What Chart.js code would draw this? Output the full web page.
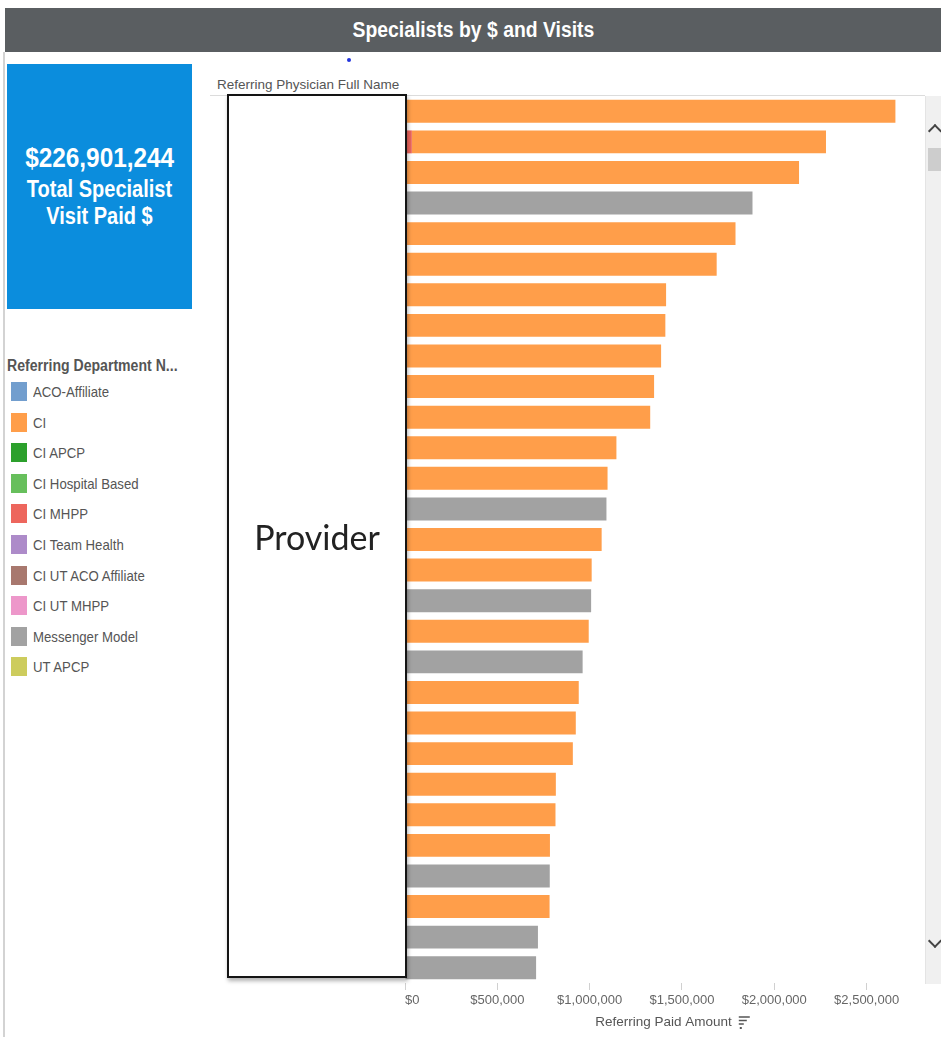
<!DOCTYPE html>
<html>
<head>
<meta charset="utf-8">
<script src="https://cdn.jsdelivr.net/npm/chart.js@4.4.1/dist/chart.umd.min.js"></script>
<style>
  html, body { margin: 0; padding: 0; background: #fff; }
  body { width: 941px; height: 1037px; position: relative; overflow: hidden;
         font-family: "Liberation Sans", Arial, sans-serif; }
  .abs { position: absolute; }
  .squeeze { display: inline-block; white-space: nowrap; }
  #edge { left: 3px; top: 52px; width: 2px; height: 985px; background: #d3d3d3; }
  #titlebar { left: 5px; top: 8px; width: 936px; height: 44px; background: #5a5e61;
              color: #fff; font-weight: bold; font-size: 22px; line-height: 44px; text-align: center; }
  #titlebar .squeeze { transform: scaleX(0.88); }
  #kpi { left: 7px; top: 64px; width: 185px; height: 245px; background: #0b8ddd; color: #fff;
         text-align: center; font-weight: bold; }
  #kpi .squeeze { transform: scaleX(0.87); }
  #kpi .big { position: absolute; left: 0; right: 0; top: 78px; font-size: 28px; line-height: 32px; }
  #kpi .sub { position: absolute; left: 0; right: 0; top: 112px; font-size: 23px; line-height: 27px; }
  #dot { left: 347px; top: 58px; width: 4px; height: 4px; border-radius: 2px; background: #2233dd; }
  #rowhead { left: 217px; top: 77px; font-size: 13.5px; color: #555; }
  #headline { left: 210px; top: 95px; width: 715px; height: 1px; background: #dcdcdc; }
  #legend { left: 7px; top: 357px; color: #555; }
  #legend .squeeze { transform: scaleX(0.88); transform-origin: left center; }
  #legend .ttl { font-size: 16px; font-weight: bold; height: 25px; }
  #legend .item { height: 30.6px; position: relative; font-size: 15px; }
  #legend .sw { position: absolute; left: 4px; top: 0; width: 16px; height: 19px; }
  #legend .lb { position: absolute; left: 26px; top: 1px; }
  #chartbox { left: 210px; top: 90px; width: 715px; height: 947px; }
  #provider { left: 227px; top: 94px; width: 176px; height: 880px; background: #fff;
              border: 2px solid #141414; box-shadow: 1px 3px 4px rgba(0,0,0,0.3);
              font-family: Lato, "Open Sans", sans-serif; font-size: 34px; color: #222;
              display: flex; align-items: center; justify-content: center; }
  #scroll { left: 925px; top: 96px; width: 16px; height: 888px; background: #f0f0f0; border-left: 1px solid #e4e4e4; }
  #thumb { left: 928px; top: 148px; width: 13px; height: 23px; background: #cdcdcd; }
  .chev { width: 8px; height: 8px; border-left: 2px solid #444; border-top: 2px solid #444; }
  #up { left: 930px; top: 126px; transform: rotate(45deg); }
  #down { left: 930px; top: 936px; transform: rotate(225deg); }
</style>
</head>
<body>
<div class="abs" id="edge"></div>
<div class="abs" id="titlebar"><span class="squeeze">Specialists by $ and Visits</span></div>
<div class="abs" id="kpi">
  <div class="big"><span class="squeeze">$226,901,244</span></div>
  <div class="sub"><span class="squeeze">Total Specialist<br>Visit Paid $</span></div>
</div>
<div class="abs" id="dot"></div>
<div class="abs" id="rowhead">Referring Physician Full Name</div>
<div class="abs" id="headline"></div>
<div class="abs" id="legend"></div>
<div class="abs" id="chartbox"><canvas id="bars" width="715" height="947"></canvas></div>
<div class="abs" id="provider">Provider</div>
<div class="abs" id="scroll"></div>
<div class="abs" id="thumb"></div>
<div class="abs chev" id="up"></div>
<div class="abs chev" id="down"></div>

<script>
// referring department colour key
const departments = ['ACO-Affiliate', 'CI', 'CI APCP', 'CI Hospital Based', 'CI MHPP',
  'CI Team Health', 'CI UT ACO Affiliate', 'CI UT MHPP', 'Messenger Model', 'UT APCP'];
const deptColors = ['#729ece', '#ff9e4a', '#2ca02c', '#67bf5c', '#ed665d',
  '#ad8bc9', '#a8786e', '#ed97ca', '#a2a2a2', '#cdcc5d'];

// one row per referring physician, sorted by paid amount
const providers = [];
for (let i = 1; i <= 29; i++) providers.push('Provider ' + i);

const mhppPaid = [null, 37000, null, null, null, null, null, null, null, null,
  null, null, null, null, null, null, null, null, null, null,
  null, null, null, null, null, null, null, null, null];
const ciPaid = [2656000, 2243000, 2134000, null, 1790000, 1688000, 1414000, 1410000, 1387000, 1349000,
  1328000, 1145000, 1097000, null, 1065000, 1011000, null, 995000, null, 941000,
  925000, 909000, 817000, 815000, 785000, null, 783000, null, null];
const messengerPaid = [null, null, null, 1882000, null, null, null, null, null, null,
  null, null, null, 1091000, null, null, 1008000, null, 962000, null,
  null, null, null, null, null, 784000, null, 720000, 710000];

const xTicks = [0, 500000, 1000000, 1500000, 2000000, 2500000];
const xMax = 2800000;

const FONT = '"Liberation Sans", Arial, sans-serif';

// legend panel
const legendEl = document.getElementById('legend');
legendEl.innerHTML = '<div class="ttl"><span class="squeeze">Referring Department N...</span></div>' +
  departments.map((d, i) =>
    '<div class="item"><span class="sw" style="background:' + deptColors[i] + '"></span>' +
    '<span class="lb"><span class="squeeze">' + d + '</span></span></div>').join('');

const color = name => deptColors[departments.indexOf(name)];

// sort glyph next to the x axis title
const sortIcon = {
  id: 'sortIcon',
  afterDraw(chart) {
    const x = chart.scales.x;
    const ctx = chart.ctx;
    ctx.save();
    ctx.font = '13.5px ' + FONT;
    const w = ctx.measureText('Referring Paid Amount').width;
    const cx = (x.left + x.right) / 2 + w / 2 + 7;
    const cy = x.bottom - 15;
    ctx.strokeStyle = '#555';
    ctx.lineWidth = 1.5;
    [[11, -5], [8, -1.5], [5, 2]].forEach(([len, dy]) => {
      ctx.beginPath();
      ctx.moveTo(cx, cy + dy);
      ctx.lineTo(cx + len, cy + dy);
      ctx.stroke();
    });
    ctx.fillStyle = '#555';
    ctx.fillRect(cx + 1, cy + 5, 2, 2);
    ctx.restore();
  }
};

new Chart(document.getElementById('bars'), {
  type: 'bar',
  data: {
    labels: providers,
    datasets: [
      { label: 'CI MHPP', data: mhppPaid, backgroundColor: color('CI MHPP') },
      { label: 'CI', data: ciPaid, backgroundColor: color('CI') },
      { label: 'Messenger Model', data: messengerPaid, backgroundColor: color('Messenger Model') }
    ]
  },
  options: {
    indexAxis: 'y',
    responsive: false,
    animation: false,
    layout: { padding: { top: 6, left: 195, right: 0, bottom: 0 } },
    datasets: { bar: { categoryPercentage: 1, barPercentage: 0.75, borderWidth: 0 } },
    plugins: { legend: { display: false }, tooltip: { enabled: false } },
    scales: {
      y: { stacked: true, display: false },
      x: {
        stacked: true,
        min: 0,
        max: xMax,
        afterFit(scale) { scale.height = 54; },
        afterBuildTicks(scale) {
          scale.ticks = xTicks.concat([xMax]).map(v => ({ value: v }));
        },
        border: { display: false },
        grid: {
          drawOnChartArea: false,
          drawTicks: true,
          tickLength: 7,
          tickColor: c => (c.tick && c.tick.value === xMax) ? 'rgba(0,0,0,0)' : '#d0d0d0'
        },
        ticks: {
          align: 'inner',
          padding: 3,
          maxRotation: 0,
          autoSkip: false,
          color: '#666',
          font: { family: FONT, size: 13 },
          callback: v => v === xMax ? '' : '$' + v.toLocaleString('en-US')
        },
        title: {
          display: true,
          text: 'Referring Paid Amount',
          color: '#555',
          font: { family: FONT, size: 13.5 },
          padding: { top: 0, bottom: 7 }
        }
      }
    }
  },
  plugins: [sortIcon]
});
</script>
</body>
</html>
